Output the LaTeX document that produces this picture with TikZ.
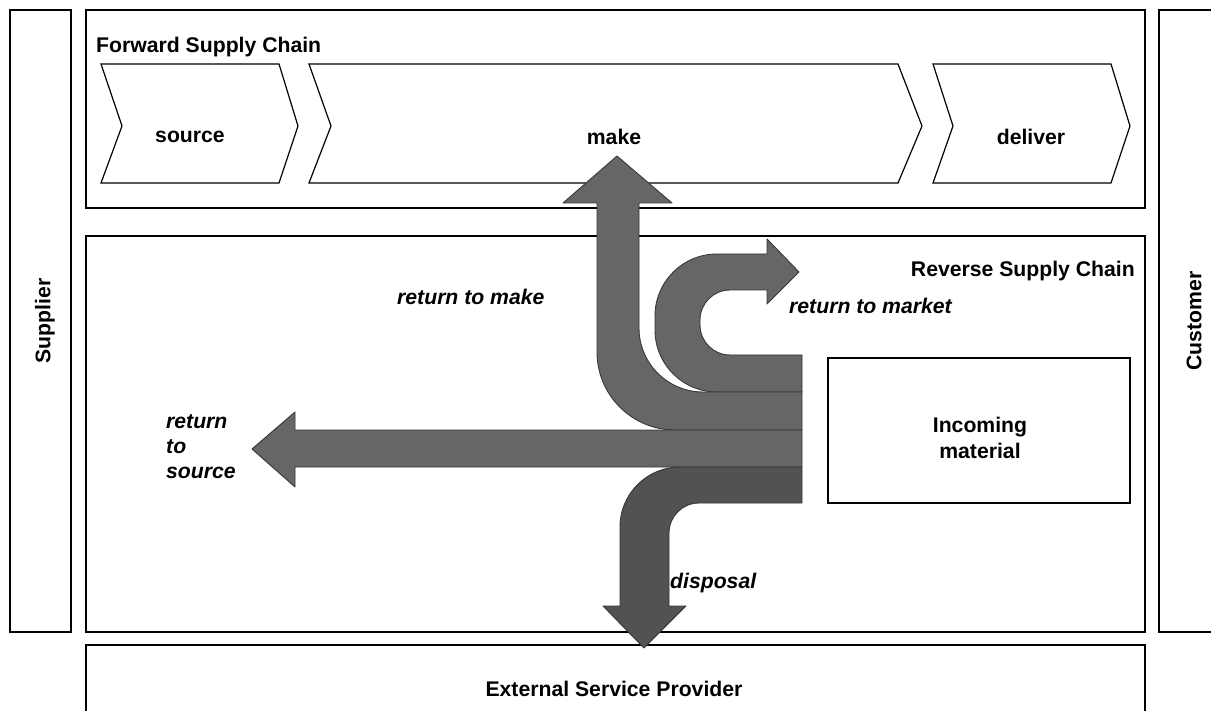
\documentclass[tikz,border=0pt]{standalone}
\usepackage{fontspec}
\setmainfont{Liberation Sans}
\begin{document}
\begin{tikzpicture}[x=1pt,y=-1pt,
  frame/.style={draw=black,line width=1.7pt,fill=white},
  chev/.style={draw=black,line width=1.2pt,fill=white},
  lbl/.style={font=\fontsize{21.2}{25.5}\selectfont\bfseries,inner sep=0pt},
  ilbl/.style={font=\fontsize{21.2}{25}\selectfont\bfseries\itshape,inner sep=0pt,align=left},
  flow/.style={fill=flowgray,draw=flowline,line width=0.9pt,line join=round},
  dflow/.style={fill=flowdark,draw=flowline,line width=0.9pt,line join=round}]
\definecolor{flowgray}{HTML}{666666}
\definecolor{flowdark}{HTML}{525252}
\definecolor{flowline}{HTML}{383838}
\useasboundingbox (0,0) rectangle (1211,711);

% side partners
\draw[frame] (10,10) rectangle (71,632);
\node[lbl,rotate=90] (supplier) at (45,321) {Supplier};
\draw[frame] (1159,10) rectangle (1240,632);
\node[lbl,rotate=90] (customer) at (1194,321) {Customer};

% forward supply chain
\draw[frame] (86,10) rectangle (1145,208);
\node[lbl,anchor=west] (fsc) at (96,47) {Forward Supply Chain};
\draw[chev] (101,64) -- (279,64) -- (298,126) -- (279,183) -- (101,183) -- (122,126) -- cycle;
\node[lbl] (source) at (190,137) {source};
\draw[chev] (309,64) -- (898,64) -- (922,126) -- (898,183) -- (309,183) -- (331,126) -- cycle;
\node[lbl] (make) at (614,137) {make};
\draw[chev] (933,64) -- (1111,64) -- (1130,126) -- (1111,183) -- (933,183) -- (953,126) -- cycle;
\node[lbl] (deliver) at (1031,137) {deliver};

% reverse supply chain
\draw[frame] (86,236) rectangle (1145,632);
\node[lbl,anchor=east] (rsc) at (1135,271) {Reverse Supply Chain};
\draw[frame] (828,358) rectangle (1130,503);
\node[lbl,align=center] (incoming) at (980,438) {Incoming\\material};

% external service provider
\draw[frame] (86,645) rectangle (1145,730);
\node[lbl] (esp) at (614,689) {External Service Provider};

% return to market (U-turn)
\draw[flow] (802,355) -- (730,355) arc (90:180:30) -- (700,320) arc (180:270:30)
  -- (767,290) -- (767,304) -- (799,272) -- (767,239) -- (767,254) -- (717,254)
  arc (270:180:62) -- (655,330) arc (180:90:62) -- (802,392) -- cycle;
% return to make
\draw[flow] (802,392) -- (703,392) arc (90:180:64) -- (639,203) -- (672,203)
  -- (617,156) -- (563,203) -- (597,203) -- (597,352) arc (180:90:78)
  -- (802,430) -- cycle;
% return to source
\draw[flow] (802,430) -- (295,430) -- (295,412) -- (252,449) -- (295,487)
  -- (295,467) -- (802,467) -- cycle;
% disposal
\draw[dflow] (802,467) -- (680,467) arc (270:180:60) -- (620,606) -- (603,606)
  -- (644,648) -- (686,606) -- (669,606) -- (669,533) arc (180:270:30)
  -- (802,503) -- cycle;

% flow labels
\node[ilbl,anchor=west] (lmake) at (397,297) {return to make};
\node[ilbl,anchor=west] (lmarket) at (789,306) {return to market};
\node[ilbl,anchor=west] (lsource) at (166,447) {return\\to\\source};
\node[ilbl,anchor=west] (ldisp) at (670,583) {disposal};
\end{tikzpicture}
\end{document}
